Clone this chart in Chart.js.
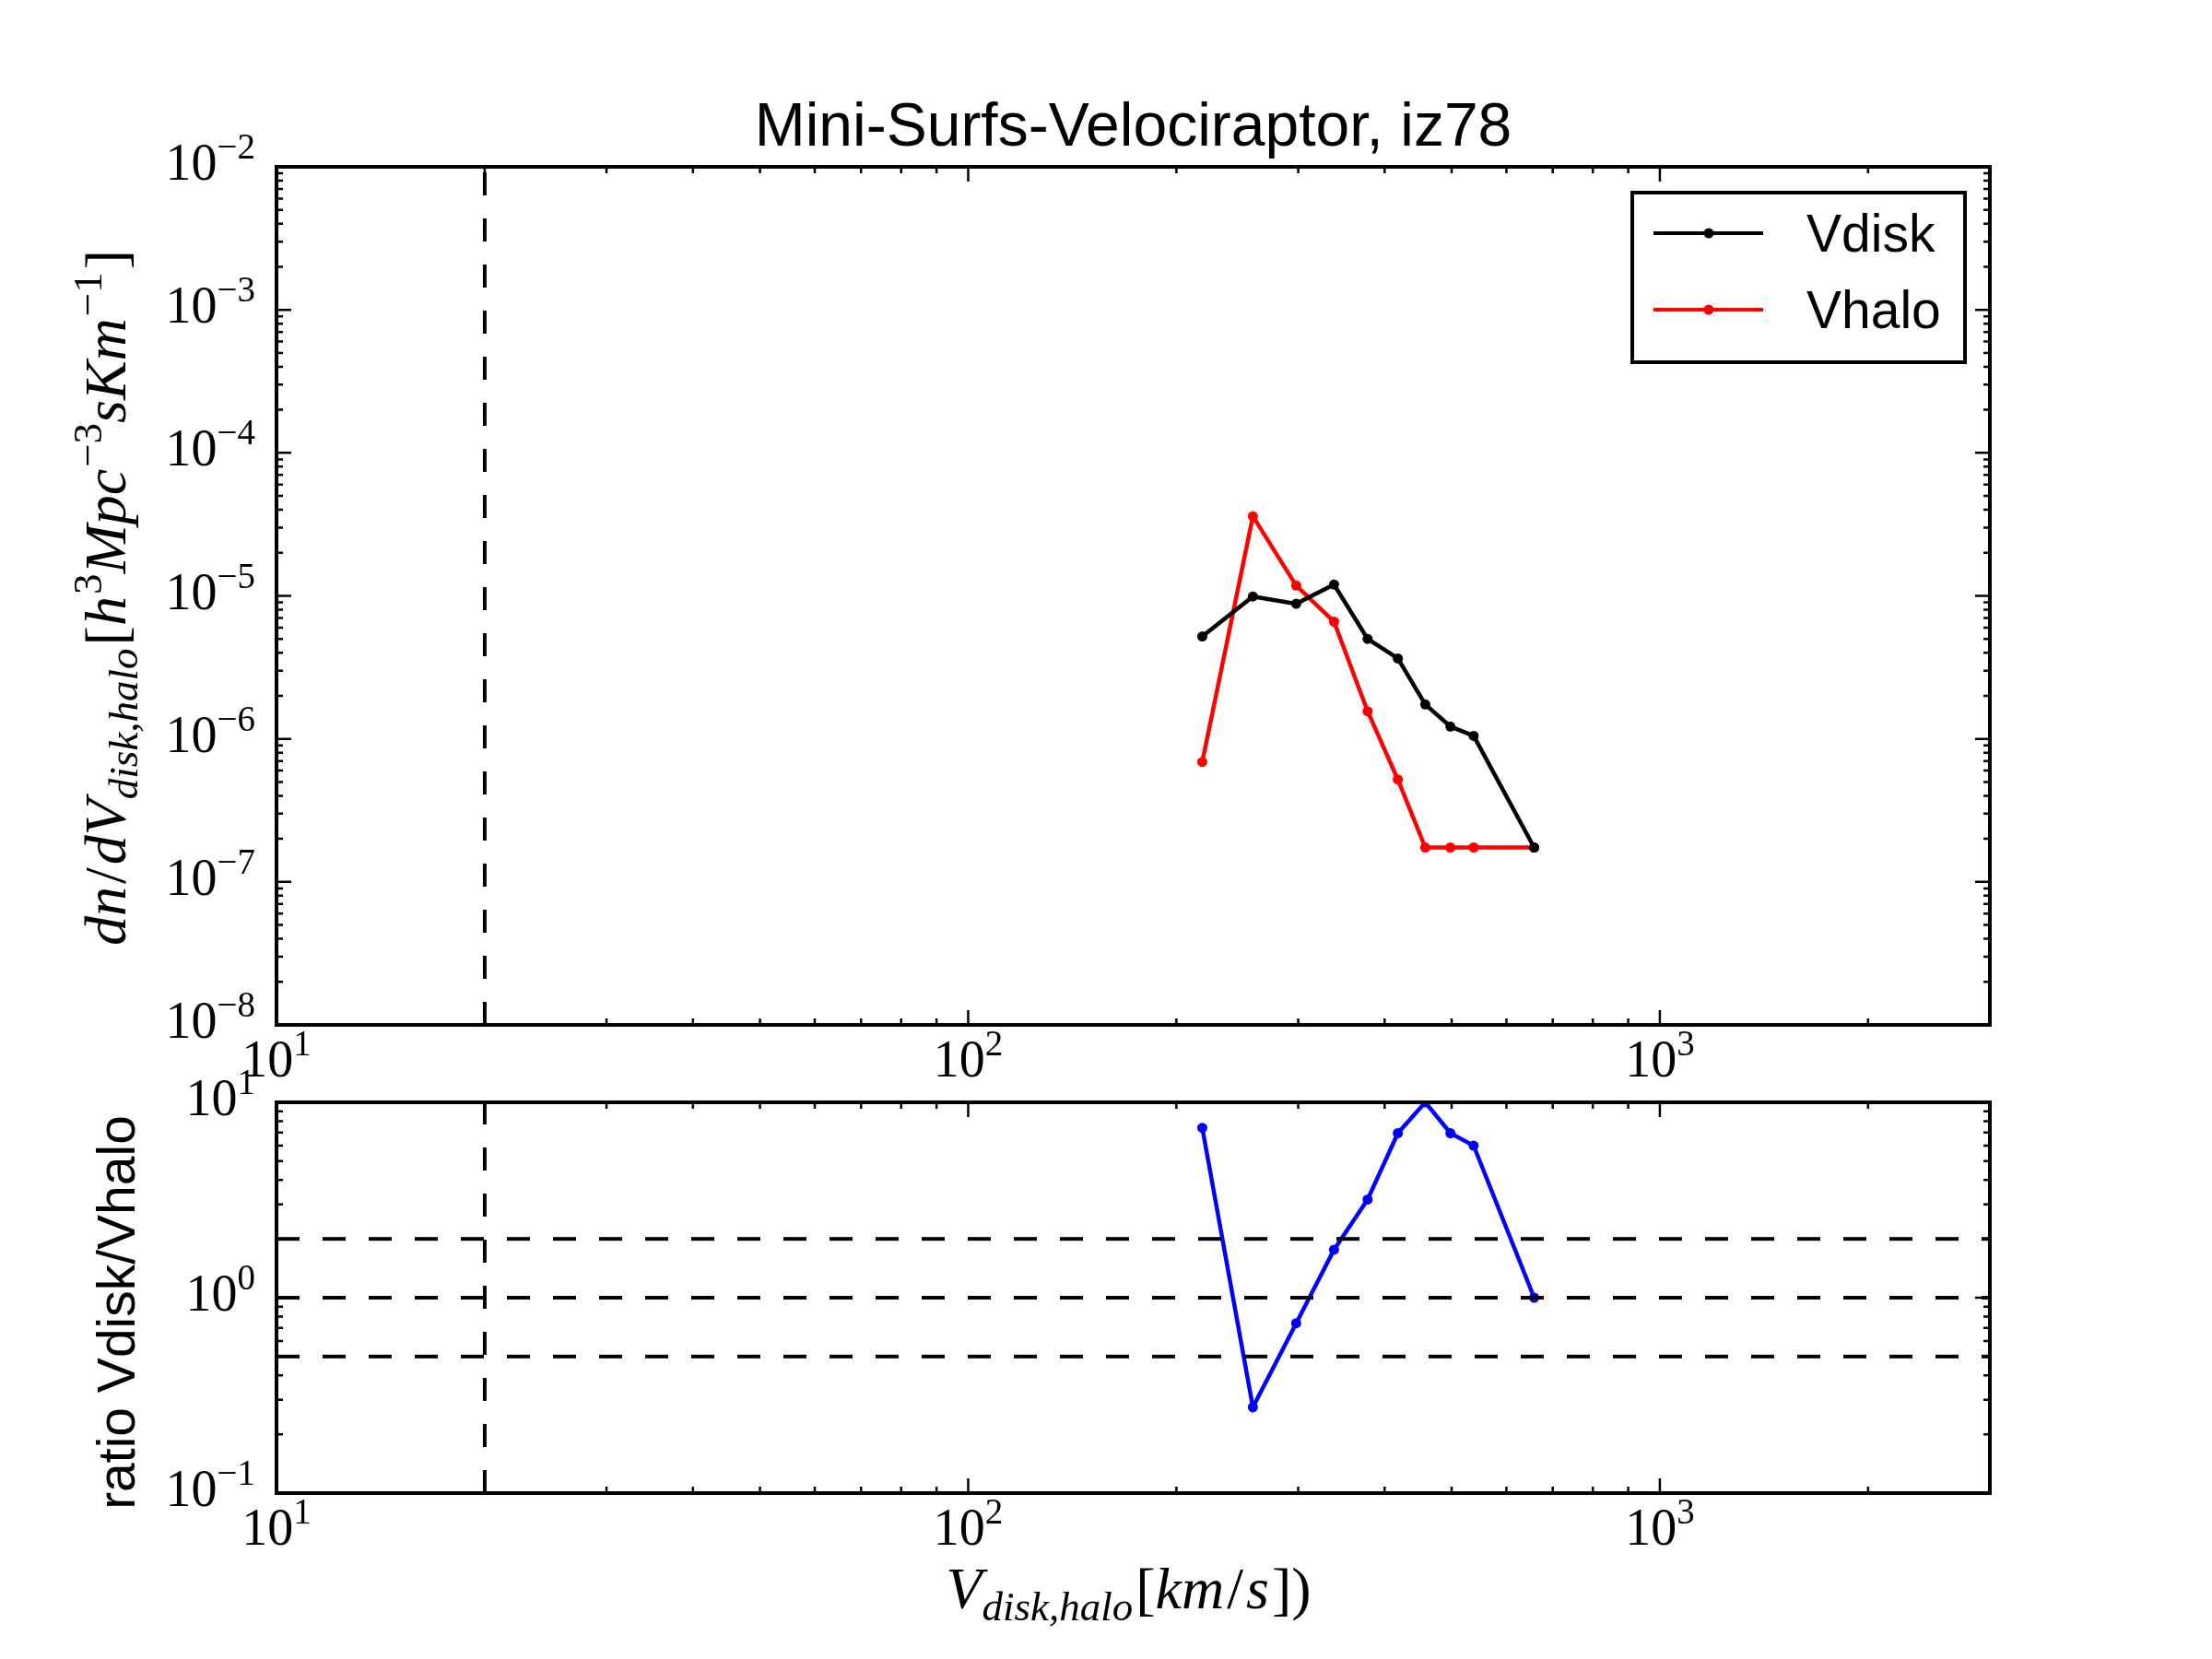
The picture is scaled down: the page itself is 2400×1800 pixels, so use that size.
<!DOCTYPE html>
<html>
<head>
<meta charset="utf-8">
<script src="https://cdn.jsdelivr.net/npm/chart.js@4.4.1/dist/chart.umd.min.js"></script>
<style>
  html, body { margin: 0; padding: 0; background: #fff; }
  #wrap { position: relative; width: 2400px; height: 1800px; }
  canvas { position: absolute; left: 0; top: 0; }
</style>
</head>
<body>
<div id="wrap">
  <canvas id="densityChart" width="2400" height="1800"></canvas>
  <canvas id="ratioChart" width="2400" height="1800"></canvas>
</div>
<script>
// ---- data ----
const velBins = [218, 258, 298, 338, 378, 418, 458, 498, 538, 658];
const vdiskDensity = [5.2e-6, 9.9e-6, 8.8e-6, 1.2e-5, 5.0e-6, 3.65e-6, 1.74e-6, 1.22e-6, 1.05e-6, 1.74e-7];
const vhaloDensity = [6.9e-7, 3.6e-5, 1.18e-5, 6.6e-6, 1.56e-6, 5.2e-7, 1.74e-7, 1.74e-7, 1.74e-7, 1.74e-7];
const ratioDiskHalo = [7.4, 0.275, 0.74, 1.76, 3.18, 6.95, 10.0, 6.95, 6.0, 1.0];

const seriesNames = ["Vdisk", "Vhalo"];
const titleText = "Mini-Surfs-Velociraptor, iz78";
const ratioLabel = "ratio Vdisk/Vhalo";

// axis ranges and reference lines
const xRange = [10, 3000];
const densityRange = [1e-8, 1e-2];
const ratioRange = [0.1, 10];
const xTickExps = [1, 2, 3];
const densityTickExps = [-8, -7, -6, -5, -4, -3, -2];
const ratioTickExps = [-1, 0, 1];
const vCut = 20;
const ratioGuides = [0.5, 1, 2];

const SERIF = '"Liberation Serif", "DejaVu Serif", serif';
const SANS = '"Liberation Sans", Arial, sans-serif';

function pts(xs, ys) { return xs.map((x, i) => ({ x: x, y: ys[i] })); }

// rich text: runs of {t, size, it, fam, dy}
function runFont(r) {
  return (r.it ? "italic " : "") + r.size + "px " + (r.fam || SERIF);
}
function richWidth(ctx, runs) {
  let w = 0;
  runs.forEach(r => { ctx.font = runFont(r); w += ctx.measureText(r.t).width + (r.gap || 0); });
  return w;
}
function drawRich(ctx, runs, x, y, align) {
  const w = richWidth(ctx, runs);
  let cx = align === "center" ? x - w / 2 : (align === "right" ? x - w : x);
  ctx.textBaseline = "alphabetic";
  ctx.textAlign = "left";
  runs.forEach(r => {
    ctx.font = runFont(r);
    ctx.fillText(r.t, cx, y + (r.dy || 0));
    cx += ctx.measureText(r.t).width + (r.gap || 0);
  });
}
function sciRuns(e) {
  const s = e < 0 ? "\u2212" + Math.abs(e) : String(e);
  return [{ t: "10", size: 56 }, { t: s, size: 39, dy: -23 }];
}

function drawFrameAndTicks(ctx, chart, yExps, showX) {
  const a = chart.chartArea, sx = chart.scales.x, sy = chart.scales.y;
  ctx.save();
  ctx.strokeStyle = "#000";
  ctx.fillStyle = "#000";
  // minor + major ticks, inward on all sides
  ctx.lineWidth = 2.5;
  const logTicks = (scale, lo, hi, cb) => {
    for (let d = Math.floor(Math.log10(lo)); d <= Math.ceil(Math.log10(hi)); d++) {
      for (let m = 1; m <= 9; m++) {
        const v = m * Math.pow(10, d);
        if (v < lo * 0.999 || v > hi * 1.001) continue;
        cb(scale.getPixelForValue(v), m === 1 ? 16 : 7);
      }
    }
  };
  ctx.beginPath();
  logTicks(sx, xRange[0], xRange[1], (p, len) => {
    ctx.moveTo(p, a.bottom); ctx.lineTo(p, a.bottom - len);
    ctx.moveTo(p, a.top); ctx.lineTo(p, a.top + len);
  });
  logTicks(sy, sy.min, sy.max, (p, len) => {
    ctx.moveTo(a.left, p); ctx.lineTo(a.left + len, p);
    ctx.moveTo(a.right, p); ctx.lineTo(a.right - len, p);
  });
  ctx.stroke();
  // frame
  ctx.lineWidth = 4;
  ctx.strokeRect(a.left, a.top, a.right - a.left, a.bottom - a.top);
  // tick labels
  yExps.forEach(e => {
    const p = sy.getPixelForValue(Math.pow(10, e));
    drawRich(ctx, sciRuns(e), a.left - 23, p + 14, "right");
  });
  if (showX) {
    xTickExps.forEach(e => {
      const p = sx.getPixelForValue(Math.pow(10, e));
      drawRich(ctx, sciRuns(e), p, a.bottom + 56, "center");
    });
  }
  ctx.restore();
}

const densityDecor = {
  id: "densityDecor",
  afterDraw(chart) {
    const ctx = chart.ctx, a = chart.chartArea;
    drawFrameAndTicks(ctx, chart, densityTickExps, true);
    ctx.save();
    ctx.fillStyle = "#000";
    // title
    ctx.font = "66px " + SANS;
    ctx.textAlign = "center";
    ctx.textBaseline = "alphabetic";
    ctx.fillText(titleText, (a.left + a.right) / 2, 158);
    // y label (rotated)
    ctx.translate(136, (a.top + a.bottom) / 2 + 2);
    ctx.rotate(-Math.PI / 2);
    const M = 64, S = 45, g = 3;
    drawRich(ctx, [
      { t: "dn", size: M, it: true, gap: g }, { t: "/", size: M, gap: g }, { t: "dV", size: M, it: true },
      { t: "disk,halo", size: S, it: true, dy: 13, gap: g },
      { t: "[", size: M }, { t: "h", size: M, it: true, gap: 2 }, { t: "3", size: S, dy: -26 },
      { t: "Mpc", size: M, it: true, gap: 2 }, { t: "\u22123", size: S, dy: -26 },
      { t: "sKm", size: M, it: true, gap: 2 }, { t: "\u22121", size: S, dy: -26, gap: g },
      { t: "]", size: M }
    ], 0, 0, "center");
    ctx.restore();
    // legend
    ctx.save();
    const lx0 = 1771, ly0 = 209, lx1 = 2132, ly1 = 393;
    ctx.fillStyle = "#fff";
    ctx.fillRect(lx0, ly0, lx1 - lx0, ly1 - ly0);
    ctx.lineWidth = 4;
    ctx.strokeStyle = "#000";
    ctx.strokeRect(lx0, ly0, lx1 - lx0, ly1 - ly0);
    const rows = [253, 336];
    chart.data.datasets.slice(0, 2).forEach((ds, i) => {
      const y = rows[i];
      ctx.strokeStyle = ds.borderColor;
      ctx.lineWidth = 4;
      ctx.beginPath(); ctx.moveTo(1794, y); ctx.lineTo(1913, y); ctx.stroke();
      ctx.fillStyle = ds.borderColor;
      ctx.beginPath(); ctx.arc(1854, y, 5.5, 0, Math.PI * 2); ctx.fill();
      ctx.fillStyle = "#000";
      ctx.font = "57px " + SANS;
      ctx.textAlign = "left";
      ctx.textBaseline = "alphabetic";
      ctx.fillText(ds.label, 1960, y + 20);
    });
    ctx.restore();
  }
};

const ratioDecor = {
  id: "ratioDecor",
  afterDraw(chart) {
    const ctx = chart.ctx, a = chart.chartArea;
    drawFrameAndTicks(ctx, chart, ratioTickExps, true);
    ctx.save();
    ctx.fillStyle = "#000";
    // x label
    const M = 64, S = 45, g = 3;
    drawRich(ctx, [
      { t: "V", size: M, it: true }, { t: "disk,halo", size: S, it: true, dy: 13, gap: g },
      { t: "[", size: M }, { t: "km", size: M, it: true, gap: g }, { t: "/", size: M, gap: g },
      { t: "s", size: M, it: true, gap: g }, { t: "])", size: M }
    ], (a.left + a.right) / 2 - 5, 1745, "center");
    // y label
    ctx.translate(146, 1424);
    ctx.rotate(-Math.PI / 2);
    ctx.font = "57px " + SANS;
    ctx.textAlign = "center";
    ctx.textBaseline = "alphabetic";
    ctx.fillText(ratioLabel, 0, 0);
    ctx.restore();
  }
};

function lineSet(label, data, color) {
  return {
    label: label, data: data, borderColor: color, backgroundColor: color,
    borderWidth: 4.5, pointRadius: 5.5, pointBorderWidth: 0,
    pointBackgroundColor: color, tension: 0, fill: false
  };
}
function dashSet(data) {
  return {
    label: "", data: data, borderColor: "#000", borderWidth: 4,
    borderDash: [25, 25], pointRadius: 0, fill: false, tension: 0
  };
}
function logAxis(range) {
  return { type: "logarithmic", display: false, min: range[0], max: range[1] };
}

const baseOpts = (pad, yr) => ({
  responsive: false,
  devicePixelRatio: 1,
  animation: false,
  events: [],
  layout: { padding: pad },
  plugins: { legend: { display: false }, tooltip: { enabled: false } },
  scales: { x: logAxis(xRange), y: logAxis(yr) }
});

new Chart(document.getElementById("densityChart"), {
  type: "line",
  data: {
    datasets: [
      lineSet(seriesNames[0], pts(velBins, vdiskDensity), "#000000"),
      lineSet(seriesNames[1], pts(velBins, vhaloDensity), "#ff0000"),
      dashSet([{ x: vCut, y: densityRange[0] }, { x: vCut, y: densityRange[1] }])
    ]
  },
  options: baseOpts({ left: 300, right: 241, top: 181, bottom: 688 }, densityRange),
  plugins: [densityDecor]
});

new Chart(document.getElementById("ratioChart"), {
  type: "line",
  data: {
    datasets: [
      dashSet([{ x: vCut, y: ratioRange[0] }, { x: vCut, y: ratioRange[1] }]),
      ...ratioGuides.map(g => dashSet([{ x: xRange[0], y: g }, { x: xRange[1], y: g }])),
      lineSet("ratio", pts(velBins, ratioDiskHalo), "#0000ff")
    ]
  },
  options: baseOpts({ left: 300, right: 241, top: 1196, bottom: 180 }, ratioRange),
  plugins: [ratioDecor]
});
</script>
</body>
</html>
